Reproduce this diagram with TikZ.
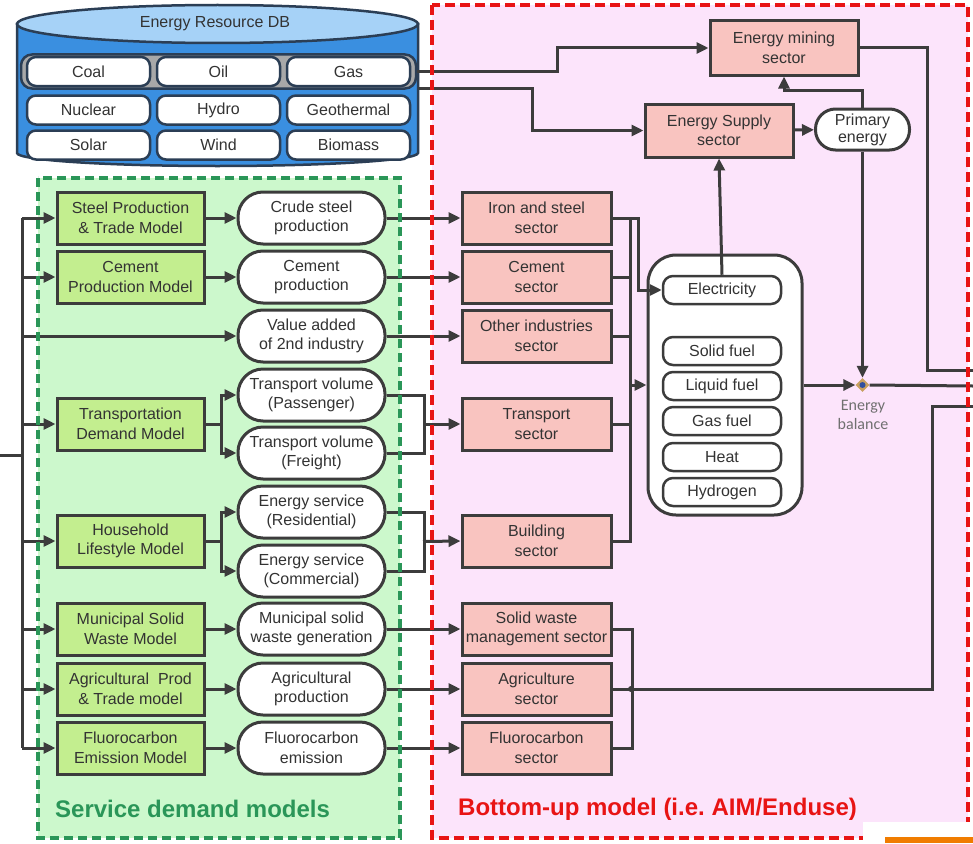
\documentclass[tikz,border=0pt]{standalone}
\usepackage{fontspec}
\setmainfont{Liberation Sans}
\newfontfamily\calfont{Carlito}
\usetikzlibrary{arrows.meta,shapes.geometric,calc}
\definecolor{txt}{HTML}{333333}
\definecolor{edge}{HTML}{3C3C3C}
\definecolor{gfill}{HTML}{C3EE8F}
\definecolor{pfill}{HTML}{F9C4C0}
\definecolor{gregion}{HTML}{CCF8CC}
\definecolor{pregion}{HTML}{FCE4FB}
\definecolor{gdash}{HTML}{2A9658}
\definecolor{rdash}{HTML}{E81414}
\definecolor{cylbody}{HTML}{3A8FE0}
\definecolor{cyltop}{HTML}{A6D2F7}
\definecolor{cyledge}{HTML}{2B3E55}
\definecolor{bandgray}{HTML}{A8A8A8}
\definecolor{ebtan}{HTML}{C8A060}
\definecolor{ebblue}{HTML}{3050A0}
\definecolor{ebtext}{HTML}{707070}
\definecolor{orng}{HTML}{F07C00}
\begin{document}
\begin{tikzpicture}[x=1pt,y=-1pt,
  every node/.style={font=\fontsize{16}{19.5}\selectfont, text=txt, align=center, inner sep=0pt},
  gbox/.style={draw=edge, line width=3pt, fill=gfill, minimum width=147pt, minimum height=52pt},
  pbox/.style={draw=edge, line width=3pt, fill=pfill, minimum width=149pt, minimum height=52pt},
  stad/.style={draw=edge, line width=3pt, fill=white, rounded corners=25pt, minimum width=147pt, minimum height=52pt},
  res/.style={draw=cyledge, line width=2.5pt, fill=white, rounded corners=9pt, minimum width=123pt, minimum height=29pt},
  bandst/.style={draw=cyledge, line width=2.5pt, fill=bandgray, rounded corners=11pt, minimum width=395pt, minimum height=34pt},
  carr/.style={draw=edge, line width=2.5pt, fill=white, rounded corners=10pt, minimum width=118pt, minimum height=28pt},
  conn/.style={draw=edge, line width=3pt},
  arr/.style={-{Triangle[length=12pt,width=11pt]}},
  title/.style={anchor=west, font=\bfseries\fontsize{24}{28}\selectfont}
]
\useasboundingbox (0,0) rectangle (973,843);
\fill[white] (0,0) rectangle (973,843);
% regions
\fill[gregion] (38,178) rectangle (400,838);
\fill[pregion] (432,5) rectangle (968,838);

% cylinder
\filldraw[fill=cylbody, draw=cyledge, line width=2.5pt] (17,24) -- (17,153) arc[start angle=180, end angle=360, x radius=200.5pt, y radius=13pt] -- (418,24) -- cycle;
\filldraw[fill=cyltop, draw=cyledge, line width=2.5pt] (217.5,24) ellipse [x radius=200.5pt, y radius=19pt];
\node (dbt) at (215,24) {Energy Resource DB};
\node[bandst] (band) at (218.5,71.5) {};
\node[res] (coal) at (88.5,71.5) {Coal};
\node[res] (oil) at (218.5,71.5) {Oil};
\node[res] (gas) at (348.5,71.5) {Gas};
\node[res] (nuc) at (88.5,110) {Nuclear};
\node[res] (hyd) at (218.5,110) {Hydro};
\node[res] (geo) at (348.5,110) {Geothermal};
\node[res] (sol) at (88.5,145) {Solar};
\node[res] (wind) at (218.5,145) {Wind};
\node[res] (bio) at (348.5,145) {Biomass};

% green models
\node[gbox] (steel) at (130.5,218) {Steel Production\\\& Trade Model};
\node[gbox] (cem) at (130.5,277) {Cement\\Production Model};
\node[gbox] (tdm) at (130.5,424) {Transportation\\Demand Model};
\node[gbox] (hh) at (130.5,541) {Household\\Lifestyle Model};
\node[gbox] (msw) at (130.5,629) {Municipal Solid\\Waste Model};
\node[gbox] (agm) at (130.5,689) {Agricultural~~Prod\\\& Trade model};
\node[gbox] (fcm) at (130.5,748) {Fluorocarbon\\Emission Model};

% service demands
\node[stad] (crude) at (311.5,218) {Crude steel\\production};
\node[stad] (cprod) at (311.5,277) {Cement\\production};
\node[stad] (va) at (311.5,336) {Value added\\of 2nd industry};
\node[stad] (tpass) at (311.5,395) {Transport volume\\(Passenger)};
\node[stad] (tfr) at (311.5,453) {Transport volume\\(Freight)};
\node[stad] (eres) at (311.5,512) {Energy service\\(Residential)};
\node[stad] (ecom) at (311.5,571) {Energy service\\(Commercial)};
\node[stad] (mswg) at (311.5,629) {Municipal solid\\waste generation};
\node[stad] (agp) at (311.5,689) {Agricultural\\production};
\node[stad] (fce) at (311.5,748) {Fluorocarbon\\emission};

% sectors
\node[pbox] (iron) at (536.5,218) {Iron and steel\\sector};
\node[pbox] (csec) at (536.5,277) {Cement\\sector};
\node[pbox] (oth) at (536.5,336) {Other industries\\sector};
\node[pbox] (tsec) at (536.5,424) {Transport\\sector};
\node[pbox] (bsec) at (536.5,541) {Building\\sector};
\node[pbox] (swsec) at (536.5,629) {Solid waste\\management sector};
\node[pbox] (agsec) at (536.5,689) {Agriculture\\sector};
\node[pbox] (fcsec) at (536.5,748) {Fluorocarbon\\sector};

% top
\node[pbox, minimum width=148pt, minimum height=54pt] (mining) at (784,48) {Energy mining\\sector};
\node[pbox, minimum width=148pt, minimum height=53pt] (supply) at (719,130.5) {Energy Supply\\sector};
\node[draw=edge, line width=3pt, fill=white, rounded corners=20pt, minimum width=94pt, minimum height=41pt, font=\fontsize{16}{17}\selectfont] (primary) at (862.5,129.5) {Primary\\energy};

% carriers
\node[draw=edge, line width=3pt, fill=white, rounded corners=28pt, minimum width=154pt, minimum height=260pt] (cont) at (725,385) {};
\node[carr] (elec) at (722,290) {Electricity};
\node[carr] (solid) at (722,351) {Solid fuel};
\node[carr] (liq) at (722,386) {Liquid fuel};
\node[carr] (gasf) at (722,421) {Gas fuel};
\node[carr] (heat) at (722,457) {Heat};
\node[carr] (h2) at (722,492) {Hydrogen};

% energy balance
\node[diamond, fill=ebtan, minimum size=14pt] (eb) at (862.5,385) {};
\fill[ebblue] (eb) circle[radius=3pt];
\node[font=\calfont\fontsize{16}{19}\selectfont, text=ebtext] (ebl) at (863,415) {Energy\\balance};

% left trunk
\coordinate (in) at (0,455);
\coordinate (trunk) at (22,455);
\draw[conn] (in) -- (trunk);
\draw[conn] (trunk |- steel.west) -- (trunk |- fcm.west);
\foreach \n in {steel,cem,va,tdm,hh,msw,agm,fcm}
  \draw[conn,arr] (trunk |- \n.west) -- (\n.west);

% models to demands
\draw[conn,arr] (steel) -- (crude);
\draw[conn,arr] (cem) -- (cprod);
\draw[conn,arr] (msw) -- (mswg);
\draw[conn,arr] (agm) -- (agp);
\draw[conn,arr] (fcm) -- (fce);
\draw[conn,arr] (tdm.east) -- ++(16,0) |- (tpass.west);
\draw[conn,arr] (tdm.east) -- ++(16,0) |- (tfr.west);
\draw[conn,arr] (hh.east) -- ++(16,0) |- (eres.west);
\draw[conn,arr] (hh.east) -- ++(16,0) |- (ecom.west);

% demands to sectors
\draw[conn,arr] (crude) -- (iron);
\draw[conn,arr] (cprod) -- (csec);
\draw[conn,arr] (va) -- (oth);
\draw[conn,arr] (mswg) -- (swsec);
\draw[conn,arr] (agp) -- (agsec);
\draw[conn,arr] (fce) -- (fcsec);
\coordinate (tm) at (423,424);
\coordinate (bm) at (423,541.5);
\draw[conn] (tpass.east) -- ++(38,0) |- (tfr.east);
\draw[conn,arr] (tm) -- (tsec.west);
\draw[conn] (eres.east) -- ++(38,0) |- (ecom.east);
\draw[conn,arr] (bm) -- (bsec.west);

% sectors to carriers
\coordinate (st) at (630,385);
\draw[conn] (iron.east) -- (iron.east -| st) -- (bsec.east -| st) -- (bsec.east);
\draw[conn] (csec.east) -- (csec.east -| st);
\draw[conn] (oth.east) -- (oth.east -| st);
\draw[conn] (tsec.east) -- (tsec.east -| st);
\draw[conn,arr] (st) -- (cont.west);
\draw[conn,arr] (iron.east) -- ++(26,0) |- (elec.west);
\draw[conn,arr] (elec.north) -- (supply.south);

% resource lines
\draw[conn,arr] (band.east) -- ++(140,0) |- (mining.west);
\coordinate (g2) at (418,88);
\draw[conn,arr] (g2) -- ++(114,0) |- (supply.west);
\draw[conn,arr] (supply) -- (primary);
\draw[conn,arr] (primary.north) -- ++(0,-17) -| (mining.south);
\draw[conn,arr] (primary.south) -- (eb.north);
\draw[conn,arr] (cont.east) -- (eb.west);

% outputs to the right
\coordinate (out1) at (973,370);
\coordinate (out2) at (973,386);
\coordinate (out3) at (973,406);
\coordinate (mc) at (927,370);
\coordinate (ac) at (932,406);
\draw[conn] (eb.east) -- (out2);
\draw[conn] (mining.east) -| (mc) -- (out1);
\draw[conn] (agsec.east) -| (ac) -- (out3);
\draw[conn] (swsec.east) -- ++(20,0) |- (fcsec.east);
\fill[edge] (631,689) circle[radius=3pt];

% region borders
\draw[gdash, line width=3.5pt, dash pattern=on 9pt off 5pt] (38,178) rectangle (400,838);
\draw[rdash, line width=3.5pt, dash pattern=on 10pt off 5pt] (432,5) rectangle (968,838);

% titles
\node[title, text=gdash] (t1) at (55,809) {Service demand models};
\node[title, text=rdash] (t2) at (458,809) {Bottom-up model (i.e.\ AIM/Enduse)};

% corner artifact
\fill[white] (863,822) rectangle (973,843);
\fill[orng] (885,837) rectangle (973,843);
\end{tikzpicture}
\end{document}
